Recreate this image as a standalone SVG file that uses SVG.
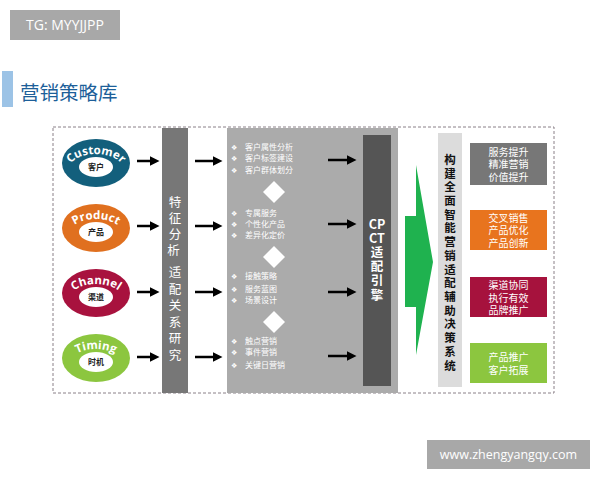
<svg xmlns="http://www.w3.org/2000/svg" width="600" height="480" viewBox="0 0 600 480">
<defs>
<style>
.cjk{font-family:"Noto Sans CJK SC","Noto Sans",sans-serif}
.lat{font-family:"Open Sans","Liberation Sans",sans-serif}
.w{fill:#fff}
.vt{font-family:"Noto Sans CJK SC",sans-serif;font-size:12.5px;fill:#fff;text-anchor:middle}
.it{font-family:"Noto Sans CJK SC",sans-serif;font-size:8px;fill:#fff}
.bu{font-family:"DejaVu Sans",sans-serif;font-size:7px;fill:#fff}
.bx{font-family:"Noto Sans CJK SC",sans-serif;font-size:10px;fill:#fff;text-anchor:middle}
.arr{stroke:#000;stroke-width:2.5;fill:none;marker-end:url(#ah)}
.ring{font-family:"Open Sans","DejaVu Sans",sans-serif;font-weight:bold;font-size:11.5px;fill:#fff}
.inner{font-family:"Noto Sans CJK SC",sans-serif;font-size:8px;font-weight:bold;fill:#222;text-anchor:middle}
</style>
<marker id="ah" markerWidth="4" markerHeight="4" refX="2.2" refY="2" orient="auto" markerUnits="strokeWidth">
<path d="M0,0 L4,2 L0,4 Z" fill="#000"/>
</marker>
<path id="arc1" d="M67,172 A29,18 0 0 1 125,172"/>
<path id="arc2" d="M67,237 A29,18 0 0 1 125,237"/>
<path id="arc3" d="M67,302 A29,18 0 0 1 125,302"/>
<path id="arc4" d="M67,367 A29,18 0 0 1 125,367"/>
</defs>
<rect width="600" height="480" fill="#fff"/>

<g id="tag">
<rect x="10" y="10" width="110" height="30" fill="#a8a8a8"/>
<text x="65" y="30" class="lat w" font-size="14" text-anchor="middle">TG: MYYJJPP</text>
</g>

<g id="title">
<rect x="2" y="71" width="11" height="36" fill="#9cc3e6"/>
<text x="20" y="100" class="cjk" font-size="19.5" fill="#1d5f99">营销策略库</text>
</g>

<rect id="frame" x="53" y="127" width="501" height="266" fill="none" stroke="#8a8088" stroke-width="1" stroke-dasharray="3,2"/>

<g id="customer">
<ellipse cx="96" cy="163" rx="34" ry="24" fill="#135f7c"/>
<ellipse cx="96" cy="167" rx="17" ry="10" fill="#fff"/>
<text class="ring"><textPath href="#arc1" startOffset="50%" text-anchor="middle">Customer</textPath></text>
<text x="96" y="170" class="inner">客户</text>
</g>
<g id="product">
<ellipse cx="96" cy="228" rx="34" ry="24" fill="#e0701f"/>
<ellipse cx="96" cy="232" rx="17" ry="10" fill="#fff"/>
<text class="ring"><textPath href="#arc2" startOffset="50%" text-anchor="middle">Product</textPath></text>
<text x="96" y="235" class="inner">产品</text>
</g>
<g id="channel">
<ellipse cx="96" cy="293" rx="34" ry="24" fill="#a8123e"/>
<ellipse cx="96" cy="297" rx="17" ry="10" fill="#fff"/>
<text class="ring"><textPath href="#arc3" startOffset="50%" text-anchor="middle">Channel</textPath></text>
<text x="96" y="300" class="inner">渠道</text>
</g>
<g id="timing">
<ellipse cx="96" cy="358" rx="34" ry="24" fill="#8cc63f"/>
<ellipse cx="96" cy="362" rx="17" ry="10" fill="#fff"/>
<text class="ring"><textPath href="#arc4" startOffset="50%" text-anchor="middle">Timing</textPath></text>
<text x="96" y="365" class="inner">时机</text>
</g>

<g id="analysis">
<rect x="162" y="128" width="26" height="265" fill="#777"/>
<text class="vt">
<tspan x="175" y="207">特</tspan><tspan x="175" y="223">征</tspan><tspan x="175" y="239">分</tspan><tspan x="175" y="255">析</tspan>
<tspan x="175" y="277">适</tspan><tspan x="175" y="294">配</tspan><tspan x="175" y="310">关</tspan><tspan x="175" y="327">系</tspan><tspan x="175" y="343">研</tspan><tspan x="175" y="360">究</tspan>
</text>
</g>

<g id="panel">
<rect x="227" y="128" width="171" height="265" fill="#ababab"/>
<g>
<text x="231" y="150" class="bu">❖</text><text x="245" y="150" class="it">客户属性分析</text>
<text x="231" y="161" class="bu">❖</text><text x="245" y="161" class="it">客户标签建设</text>
<text x="231" y="173" class="bu">❖</text><text x="245" y="173" class="it">客户群体划分</text>
<text x="231" y="216" class="bu">❖</text><text x="245" y="216" class="it">专属服务</text>
<text x="231" y="227" class="bu">❖</text><text x="245" y="227" class="it">个性化产品</text>
<text x="231" y="238" class="bu">❖</text><text x="245" y="238" class="it">差异化定价</text>
<text x="231" y="279" class="bu">❖</text><text x="245" y="279" class="it">接触策略</text>
<text x="231" y="292" class="bu">❖</text><text x="245" y="292" class="it">服务蓝图</text>
<text x="231" y="303" class="bu">❖</text><text x="245" y="303" class="it">场景设计</text>
<text x="231" y="344" class="bu">❖</text><text x="245" y="344" class="it">触点营销</text>
<text x="231" y="355" class="bu">❖</text><text x="245" y="355" class="it">事件营销</text>
<text x="231" y="368" class="bu">❖</text><text x="245" y="368" class="it">关键日营销</text>
</g>
<path d="M274,181 L285,192 L274,203 L263,192 Z" fill="#fff"/>
<path d="M274,246 L285,257 L274,268 L263,257 Z" fill="#fff"/>
<path d="M274,311 L285,322 L274,333 L263,322 Z" fill="#fff"/>
</g>

<g id="engine">
<rect x="363" y="135" width="28" height="251" fill="#555"/>
<text class="vt" font-weight="bold" font-size="12">
<tspan x="377" y="229">CP</tspan><tspan x="377" y="243">CT</tspan><tspan x="377" y="257">适</tspan><tspan x="377" y="271">配</tspan><tspan x="377" y="285">引</tspan><tspan x="377" y="300">擎</tspan>
</text>
</g>

<g id="green-arrow">
<path d="M405,216 L416,216 L416,165 L433,262 L416,355 L416,307 L405,307 Z" fill="#1fb24f"/>
</g>

<g id="system">
<rect x="438" y="133" width="24" height="254" fill="#dcdcdc"/>
<text font-family="Noto Sans CJK SC,sans-serif" font-size="11.5" font-weight="bold" fill="#111" text-anchor="middle">
<tspan x="450" y="164">构</tspan><tspan x="450" y="178">建</tspan><tspan x="450" y="191">全</tspan><tspan x="450" y="205">面</tspan><tspan x="450" y="219">智</tspan><tspan x="450" y="232">能</tspan><tspan x="450" y="246">营</tspan><tspan x="450" y="260">销</tspan><tspan x="450" y="274">适</tspan><tspan x="450" y="287">配</tspan><tspan x="450" y="301">辅</tspan><tspan x="450" y="315">助</tspan><tspan x="450" y="328">决</tspan><tspan x="450" y="342">策</tspan><tspan x="450" y="356">系</tspan><tspan x="450" y="370">统</tspan>
</text>
</g>

<g id="out1">
<rect x="470" y="143" width="77" height="42" fill="#777"/>
<text class="bx"><tspan x="508.5" y="156">服务提升</tspan><tspan x="508.5" y="168">精准营销</tspan><tspan x="508.5" y="181">价值提升</tspan></text>
</g>
<g id="out2">
<rect x="470" y="210" width="77" height="40" fill="#e8741e"/>
<text class="bx"><tspan x="508.5" y="222">交叉销售</tspan><tspan x="508.5" y="234">产品优化</tspan><tspan x="508.5" y="247">产品创新</tspan></text>
</g>
<g id="out3">
<rect x="470" y="277" width="77" height="40" fill="#a6123d"/>
<text class="bx"><tspan x="508.5" y="289">渠道协同</tspan><tspan x="508.5" y="302">执行有效</tspan><tspan x="508.5" y="314">品牌推广</tspan></text>
</g>
<g id="out4">
<rect x="470" y="343" width="77" height="40" fill="#8cc63f"/>
<text class="bx"><tspan x="508.5" y="361">产品推广</tspan><tspan x="508.5" y="374">客户拓展</tspan></text>
</g>

<g id="connectors">
<line x1="137" y1="161" x2="155" y2="161" class="arr"/>
<line x1="137" y1="226" x2="155" y2="226" class="arr"/>
<line x1="137" y1="292" x2="155" y2="292" class="arr"/>
<line x1="137" y1="357" x2="155" y2="357" class="arr"/>
<line x1="195" y1="161" x2="218" y2="161" class="arr"/>
<line x1="195" y1="226" x2="218" y2="226" class="arr"/>
<line x1="195" y1="292" x2="218" y2="292" class="arr"/>
<line x1="195" y1="357" x2="218" y2="357" class="arr"/>
<line x1="328" y1="160" x2="352" y2="160" class="arr"/>
<line x1="328" y1="224" x2="352" y2="224" class="arr"/>
<line x1="328" y1="292" x2="352" y2="292" class="arr"/>
<line x1="328" y1="356" x2="352" y2="356" class="arr"/>
</g>

<g id="watermark">
<rect x="427" y="440" width="163" height="29" fill="#a8a8a8"/>
<text x="508.5" y="459" class="lat w" font-size="12.5" text-anchor="middle">www.zhengyangqy.com</text>
</g>
</svg>
